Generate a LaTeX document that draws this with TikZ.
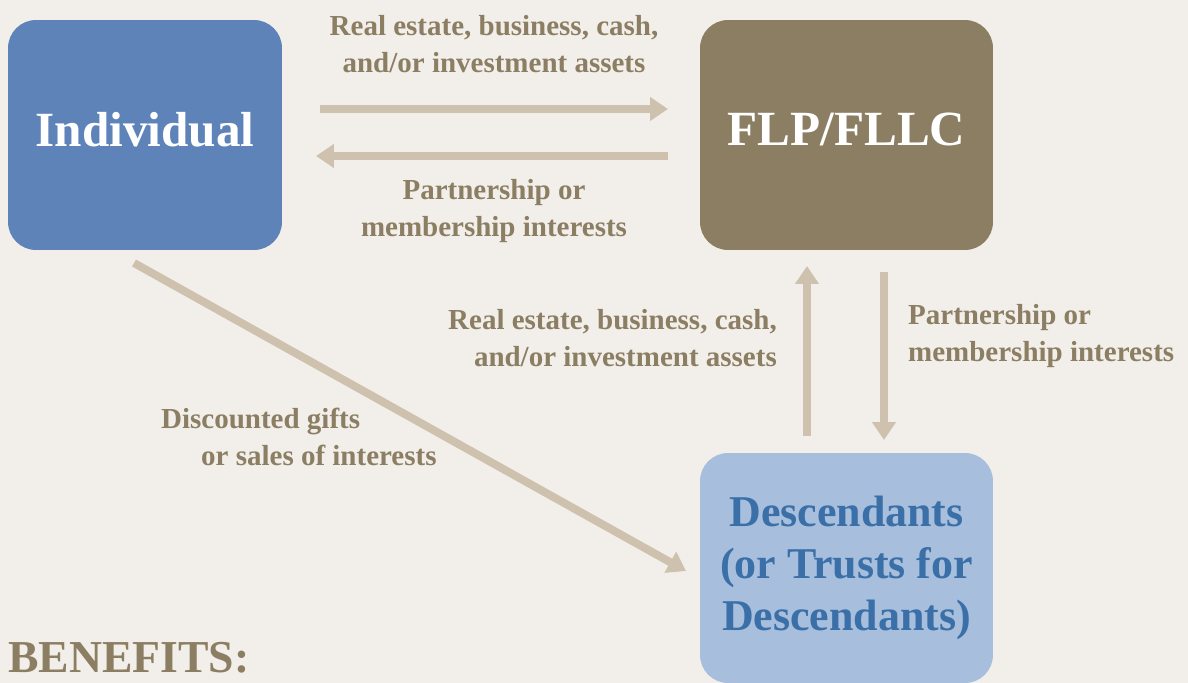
\documentclass[tikz,border=0pt]{standalone}
\usepackage{fontspec}
\setmainfont{Liberation Serif}
\usetikzlibrary{arrows.meta,positioning}

\definecolor{bgcol}{HTML}{F2EFEA}
\definecolor{indcol}{HTML}{5E83B9}
\definecolor{flpcol}{HTML}{8C7E63}
\definecolor{desccol}{HTML}{A7BEDC}
\definecolor{desctext}{HTML}{3A6FA8}
\definecolor{flowcol}{HTML}{CEC2AF}
\definecolor{labelcol}{HTML}{8C7E63}

\begin{document}
\begin{tikzpicture}[x=0.02cm, y=-0.02cm,
    box/.style={rounded corners=0.56cm, minimum height=4.6cm, inner sep=0pt,
        align=center, font=\bfseries\fontsize{28}{30}\selectfont},
    flow/.style={draw=flowcol, line width=0.16cm,
        -{Triangle[length=0.36cm, width=0.46cm]}},
    lbl/.style={text=labelcol, align=center,
        font=\bfseries\fontsize{16.5}{21.5}\selectfont}]
    \fill[bgcol] (0,0) rectangle (1188,683);
    \useasboundingbox (0,0) rectangle (1188,683);

    % boxes
    \node[box, fill=indcol, text=white, minimum width=5.48cm] (ind) at (145,135)
        {\raisebox{0.22cm}{Individual}};
    \node[box, fill=flpcol, text=white, minimum width=5.86cm] (flp) at (846.5,135)
        {\raisebox{0.22cm}{FLP/FLLC}};
    \node[box, fill=desccol, text=desctext, minimum width=5.86cm,
        font=\bfseries\fontsize{25}{29.5}\selectfont] (desc) at (846.5,568)
        {Descendants\\(or Trusts for\\Descendants)};

    % arrow ends
    \coordinate (a1) at (320,109);  \coordinate (b1) at (668,109);
    \coordinate (a2) at (668,156);  \coordinate (b2) at (316,156);
    \coordinate (a3) at (807,436);  \coordinate (b3) at (807,266);
    \coordinate (a4) at (884,272);  \coordinate (b4) at (884,440);
    \coordinate (a5) at (134,263);  \coordinate (b5) at (686,571);

    \draw[flow] (a1) -- (b1);
    \draw[flow] (a2) -- (b2);
    \draw[flow] (a3) -- (b3);
    \draw[flow] (a4) -- (b4);
    \draw[flow] (a5) -- (b5);

    % labels
    \node[lbl] (l1) at (494,44) {Real estate, business, cash,\\and/or investment assets};
    \node[lbl] (l2) at (494,211) {Partnership or\\membership interests};
    \node[lbl, anchor=east, align=right] (l3) at (783,338) {Real estate, business, cash,\\and/or investment assets};
    \node[lbl, anchor=west, align=left] (l4) at (902,336) {Partnership or\\membership interests};
    \node[lbl, anchor=west, align=left] (l5) at (155,437) {Discounted gifts\\\hspace*{0.8cm}or sales of interests};

    \node[anchor=west, text=labelcol, inner sep=0pt,
        font=\bfseries\fontsize{26}{30}\selectfont] (ben) at (8,658) {BENEFITS:};
\end{tikzpicture}
\end{document}
